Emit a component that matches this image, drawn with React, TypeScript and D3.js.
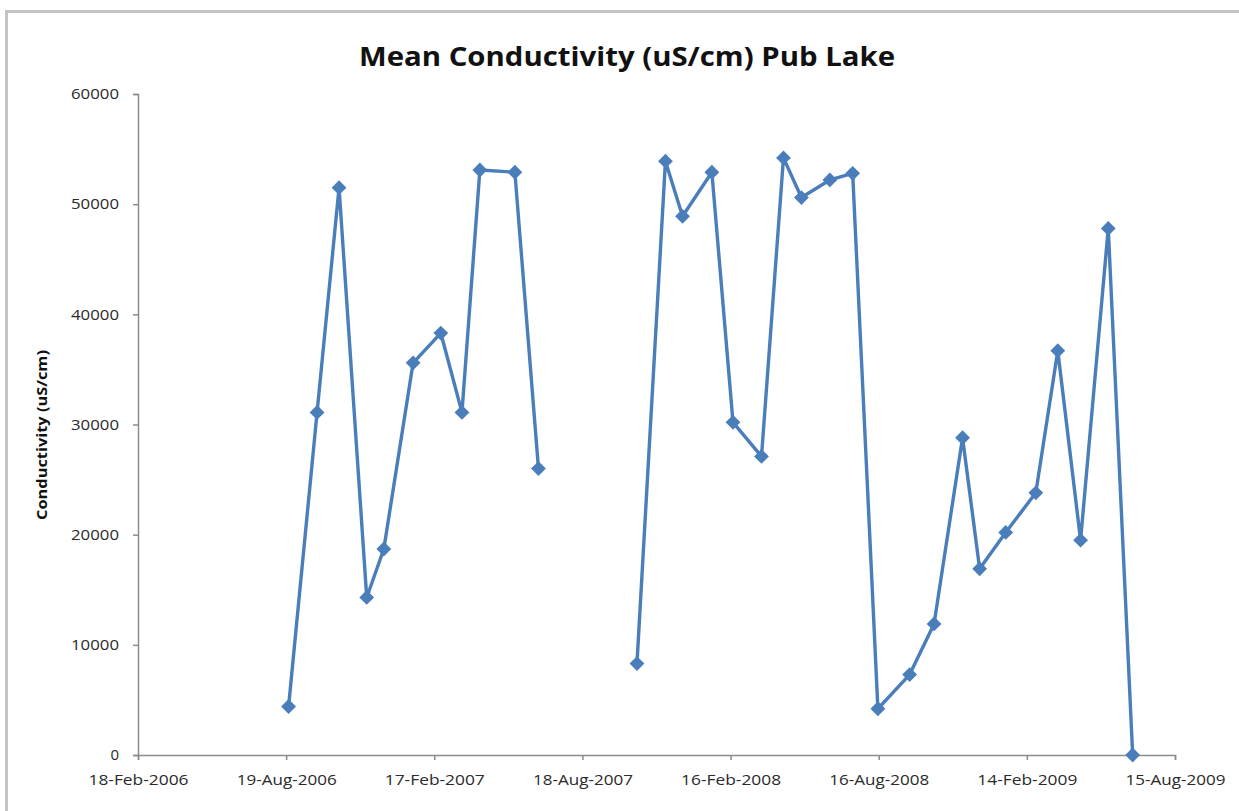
import React, { useEffect, useRef } from 'react';
import * as d3 from 'd3';

// sample dates and mean conductivity (uS/cm); null = no sample (line breaks)
const sampleDates = [
  '22-Aug-2006', '26-Sep-2006', '23-Oct-2006', '26-Nov-2006', '17-Dec-2006',
  '22-Jan-2007', '25-Feb-2007', '23-Mar-2007', '14-Apr-2007', '27-May-2007',
  '25-Jun-2007', '15-Aug-2007',
  '24-Oct-2007', '28-Nov-2007', '19-Dec-2007', '24-Jan-2008', '19-Feb-2008',
  '25-Mar-2008', '21-Apr-2008', '13-May-2008', '17-Jun-2008', '15-Jul-2008',
  '15-Aug-2008', '23-Sep-2008', '23-Oct-2008', '27-Nov-2008', '18-Dec-2008',
  '19-Jan-2009', '25-Feb-2009', '24-Mar-2009', '21-Apr-2009', '25-May-2009',
  '24-Jun-2009',
];
const conductivity: (number | null)[] = [
  4400, 31100, 51500, 14300, 18700,
  35600, 38300, 31100, 53100, 52900,
  26000, null,
  8300, 53900, 48900, 52900, 30200,
  27100, 54200, 50600, 52200, 52800,
  4200, 7300, 11900, 28800, 16900,
  20200, 23800, 36700, 19500, 47800,
  0,
];
const xTickLabels = [
  '18-Feb-2006', '19-Aug-2006', '17-Feb-2007', '18-Aug-2007',
  '16-Feb-2008', '16-Aug-2008', '14-Feb-2009', '15-Aug-2009',
];
const yTicks = [0, 10000, 20000, 30000, 40000, 50000, 60000];

const W = 1239;
const H = 811;

const App: React.FC = () => {
  const ref = useRef<SVGSVGElement>(null);

  useEffect(() => {
    const svg = d3.select(ref.current);
    svg.selectAll('*').remove();

    const parse = d3.timeParse('%d-%b-%Y');
    const fmt = d3.timeFormat('%d-%b-%Y');
    const tickDates = xTickLabels.map(s => parse(s) as Date);

    const data = sampleDates.map((d, i) => ({ date: parse(d) as Date, value: conductivity[i] }));

    const x = d3.scaleTime()
      .domain([tickDates[0], tickDates[tickDates.length - 1]])
      .range([138, 1175]);
    const y = d3.scaleLinear().domain([0, 60000]).range([755, 94]);

    // chart frame
    svg.append('rect')
      .attr('x', 6.5).attr('y', 11.5)
      .attr('width', W + 20).attr('height', H + 20)
      .attr('fill', '#fff')
      .attr('stroke', '#c4c4c4')
      .attr('stroke-width', 3);

    // title
    svg.append('text')
      .attr('x', 627).attr('y', 66)
      .attr('text-anchor', 'middle')
      .attr('font-family', 'Open Sans, sans-serif')
      .attr('font-weight', 'bold')
      .attr('font-size', 27)
      .attr('textLength', 536)
      .attr('lengthAdjust', 'spacingAndGlyphs')
      .attr('fill', '#111')
      .text('Mean Conductivity (uS/cm) Pub Lake');

    // y axis title
    svg.append('text')
      .attr('transform', 'translate(47,435) rotate(-90)')
      .attr('text-anchor', 'middle')
      .attr('font-family', 'Open Sans, sans-serif')
      .attr('font-weight', 'bold')
      .attr('font-size', 14)
      .attr('textLength', 170)
      .attr('lengthAdjust', 'spacingAndGlyphs')
      .attr('fill', '#111')
      .text('Conductivity (uS/cm)');

    // axes
    const yAxis = svg.append('g')
      .attr('transform', 'translate(138,0)')
      .call(d3.axisLeft(y).tickValues(yTicks).tickSize(5).tickPadding(14).tickFormat(d3.format('d')));
    const xAxis = svg.append('g')
      .attr('transform', 'translate(0,755)')
      .call(d3.axisBottom(x).tickValues(tickDates).tickSize(5).tickPadding(14)
        .tickFormat(d => fmt(d as Date)));

    [yAxis, xAxis].forEach(g => {
      g.select('.domain').attr('stroke', '#8c8c8c').attr('stroke-width', 1.5);
      g.selectAll('.tick line').attr('stroke', '#8c8c8c').attr('stroke-width', 1.5);
      g.selectAll('.tick text')
        .attr('font-family', 'Open Sans, sans-serif')
        .attr('font-size', 15)
        .attr('fill', '#2a2a2a');
    });
    yAxis.selectAll<SVGTextElement, number>('.tick text')
      .filter(d => d !== 0)
      .attr('textLength', 48)
      .attr('lengthAdjust', 'spacingAndGlyphs');
    xAxis.selectAll('.tick text').attr('textLength', 100).attr('lengthAdjust', 'spacingAndGlyphs');

    // series line
    const line = d3.line<{ date: Date; value: number | null }>()
      .defined(d => d.value !== null)
      .x(d => x(d.date))
      .y(d => y(d.value as number));

    svg.append('path')
      .datum(data)
      .attr('fill', 'none')
      .attr('stroke', '#4a7ebb')
      .attr('stroke-width', 3.4)
      .attr('stroke-linejoin', 'round')
      .attr('d', line);

    // diamond markers
    const diamond = d3.symbol().type(d3.symbolDiamond2).size(140);
    svg.append('g')
      .selectAll('path')
      .data(data.filter(d => d.value !== null))
      .join('path')
      .attr('transform', d => `translate(${x(d.date)},${y(d.value as number)})`)
      .attr('d', diamond)
      .attr('fill', '#4a7ebb');
  }, []);

  return (
    <svg
      ref={ref}
      width={W}
      height={H}
      style={{ position: 'absolute', left: 0, top: 0, background: '#fff' }}
    />
  );
};

export default App;
